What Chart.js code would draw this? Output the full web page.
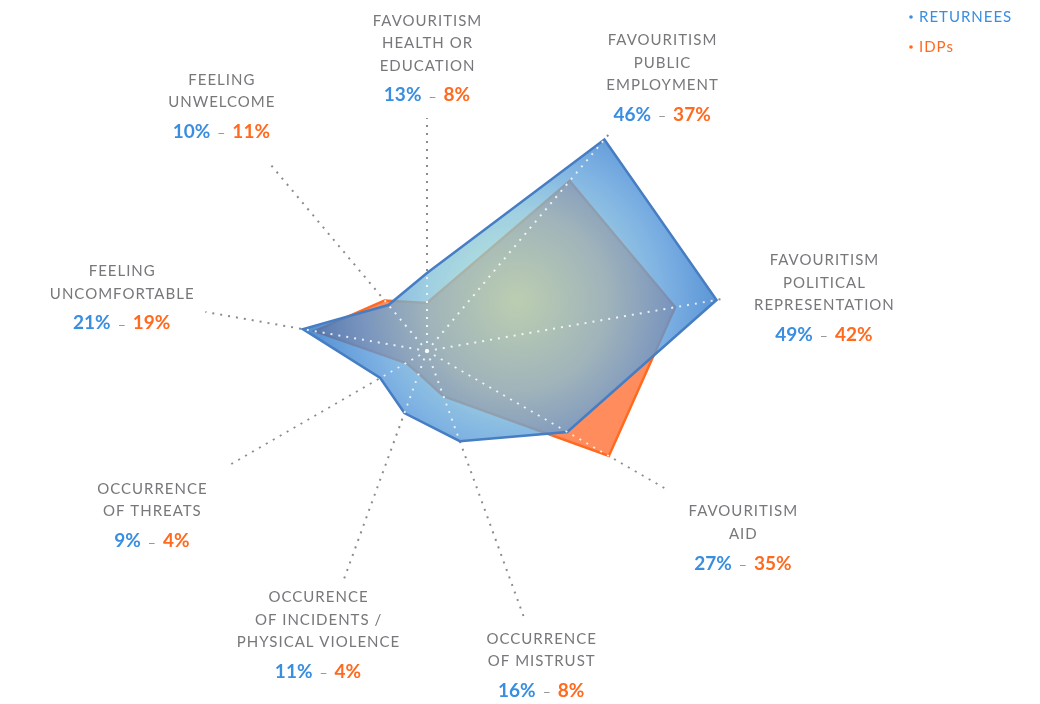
<!DOCTYPE html>
<html>
<head>
<meta charset="utf-8">
<script src="https://cdn.jsdelivr.net/npm/chart.js@4"></script>
<style>
    html, body { margin: 0; padding: 0; background: #fff; }
    #wrap { position: relative; width: 1040px; height: 704px; }
</style>
</head>
<body>
<div id="wrap"><canvas id="radar" width="1040" height="704"></canvas></div>
<script>
// ---- Data ----
const categories = [
    ['FAVOURITISM', 'HEALTH OR', 'EDUCATION'],
    ['FAVOURITISM', 'PUBLIC', 'EMPLOYMENT'],
    ['FAVOURITISM', 'POLITICAL', 'REPRESENTATION'],
    ['FAVOURITISM', 'AID'],
    ['OCCURRENCE', 'OF MISTRUST'],
    ['OCCURENCE', 'OF INCIDENTS /', 'PHYSICAL VIOLENCE'],
    ['OCCURRENCE', 'OF THREATS'],
    ['FEELING', 'UNCOMFORTABLE'],
    ['FEELING', 'UNWELCOME']
];
const returnees = [13, 46, 49, 27, 16, 11, 9, 21, 10];
const idps = [8, 37, 42, 35, 8, 4, 4, 19, 11];
const seriesNames = ['RETURNEES', 'IDPs'];
const scaleMax = 50;

// ---- Layout (pixels) ----
const labelDistance = [293, 361, 400, 367, 334, 304, 320, 310, 320];
const labelNudge = [[0, 0], [3, 3], [3, 16], [-2, 3], [0, 0], [-5, -2], [2, 4], [0, 0], [0, 0]];
const axisLength = [233, 285, 299, 279, 282, 242, 232, 225, 247];

const BLUE_TEXT = '#3a8ee0';
const ORANGE_TEXT = '#ff6a1f';
const GREY_TEXT = '#77777c';
const FONT = 'Lato, "Open Sans", sans-serif';

// radial gradient for the returnees area (greenish centre, blue rim)
const returneesFill = (context) => {
    const chart = context.chart;
    const r = chart.scales.r;
    if (!r || r.xCenter === undefined) return 'rgba(90,150,215,0.75)';
    const cx = r.xCenter + 90, cy = r.yCenter - 50;
    const g = chart.ctx.createRadialGradient(cx, cy, 0, cx, cy, 320);
    g.addColorStop(0, 'rgba(165,228,205,0.75)');
    g.addColorStop(0.28, 'rgba(130,192,216,0.76)');
    g.addColorStop(0.48, 'rgba(85,152,218,0.78)');
    g.addColorStop(0.66, 'rgba(35,112,198,0.78)');
    g.addColorStop(1, 'rgba(20,95,185,0.78)');
    return g;
};

const dottedLine = (ctx, r, i, length, color) => {
    const p = r.getPointPosition(i, length);
    ctx.save();
    ctx.strokeStyle = color;
    ctx.lineWidth = 2;
    ctx.setLineDash([2, 6]);
    ctx.beginPath();
    ctx.moveTo(r.xCenter, r.yCenter);
    ctx.lineTo(p.x, p.y);
    ctx.stroke();
    ctx.restore();
};

const radarDecor = {
    id: 'radarDecor',
    beforeDatasetsDraw(chart) {
        const r = chart.scales.r;
        categories.forEach((_, i) => dottedLine(chart.ctx, r, i, axisLength[i], '#8c8c8c'));
    },
    afterDatasetsDraw(chart) {
        const ctx = chart.ctx;
        const r = chart.scales.r;

        // light dots over the filled areas
        categories.forEach((_, i) => {
            const inner = r.getDistanceFromCenterForValue(Math.max(returnees[i], idps[i]));
            dottedLine(ctx, r, i, inner, 'rgba(255,255,255,0.85)');
        });

        // axis labels + value pairs
        ctx.save();
        ctx.textBaseline = 'middle';
        categories.forEach((lines, i) => {
            const p = r.getPointPosition(i, labelDistance[i]);
            const x = p.x + labelNudge[i][0];
            const cy = p.y + labelNudge[i][1];
            const lineH = 22.5, gap = 29.5;
            const blockH = (lines.length - 1) * lineH + gap;
            let y = cy - blockH / 2;

            ctx.textAlign = 'center';
            ctx.fillStyle = GREY_TEXT;
            ctx.font = '15px ' + FONT;
            ctx.letterSpacing = '1px';
            lines.forEach((t, k) => ctx.fillText(t, x + 0.5, y + k * lineH));

            // "13% – 8%"
            const yv = y + (lines.length - 1) * lineH + gap;
            ctx.letterSpacing = '0px';
            const a = returnees[i] + '%', b = idps[i] + '%', dash = '–';
            ctx.font = 'bold 19px ' + FONT;
            const wa = ctx.measureText(a).width, wb = ctx.measureText(b).width;
            ctx.font = '14px ' + FONT;
            const wd = ctx.measureText(dash).width;
            const sp = 7;
            let sx = x - (wa + wb + wd + 2 * sp) / 2;
            ctx.textAlign = 'left';
            ctx.font = 'bold 19px ' + FONT;
            ctx.fillStyle = BLUE_TEXT;
            ctx.fillText(a, sx, yv);
            sx += wa + sp;
            ctx.font = '14px ' + FONT;
            ctx.fillStyle = '#8c8c8c';
            ctx.fillText(dash, sx, yv + 2);
            sx += wd + sp;
            ctx.font = 'bold 19px ' + FONT;
            ctx.fillStyle = ORANGE_TEXT;
            ctx.fillText(b, sx, yv);
        });

        // legend, top right
        ctx.textAlign = 'left';
        ctx.font = '15px ' + FONT;
        ctx.letterSpacing = '1px';
        [BLUE_TEXT, ORANGE_TEXT].forEach((c, k) => {
            ctx.fillStyle = c;
            ctx.beginPath();
            ctx.arc(911, 17 + k * 30, 1.8, 0, Math.PI * 2);
            ctx.fill();
            ctx.fillText(seriesNames[k], 919, 17 + k * 30);
        });
        ctx.restore();
    }
};

new Chart(document.getElementById('radar'), {
    type: 'radar',
    data: {
        labels: categories,
        datasets: [
            {
                label: seriesNames[0],
                data: returnees,
                backgroundColor: returneesFill,
                borderColor: '#467dc3',
                borderWidth: 2.5,
                fill: true
            },
            {
                label: seriesNames[1],
                data: idps,
                backgroundColor: '#ff8c5c',
                borderColor: '#ff6a20',
                borderWidth: 2.5,
                fill: true
            }
        ]
    },
    options: {
        responsive: false,
        animation: false,
        layout: { padding: { left: 127, right: 313, top: 51, bottom: 53 } },
        plugins: { legend: { display: false }, tooltip: { enabled: false } },
        elements: { point: { radius: 0 }, line: { tension: 0, borderJoinStyle: 'miter' } },
        scales: {
            r: {
                min: 0,
                max: scaleMax,
                startAngle: 0,
                ticks: { display: false },
                grid: { display: false },
                angleLines: { display: false },
                pointLabels: { display: false }
            }
        }
    },
    plugins: [radarDecor]
});
</script>
</body>
</html>
